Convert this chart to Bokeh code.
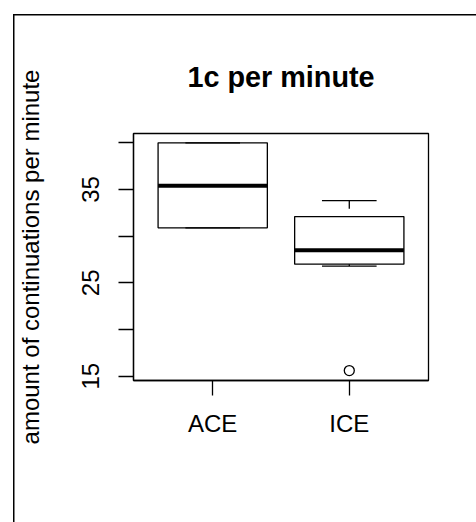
from bokeh.plotting import figure
from bokeh.models import Range1d, FixedTicker, ColumnDataSource
from bokeh.embed import file_html
from bokeh.resources import INLINE

# ---- data ----
categories = ["ACE", "ICE"]
lower_whisker = [30.9, 26.8]
q1 = [30.9, 27.0]
median = [35.4, 28.5]
q3 = [40.0, 32.1]
upper_whisker = [40.0, 33.8]
outlier_cat = ["ICE"]
outlier_val = [15.6]
y_ticks = [15, 20, 25, 30, 35, 40]
y_tick_labels = ["15", "", "25", "", "35", ""]

pos = [i + 1 for i in range(len(categories))]
box_half = 0.4
staple_half = 0.2

src = ColumnDataSource(dict(
    x=pos,
    left=[p - box_half for p in pos],
    right=[p + box_half for p in pos],
    sl=[p - staple_half for p in pos],
    sr=[p + staple_half for p in pos],
    lw=lower_whisker, q1=q1, med=median, q3=q3, uw=upper_whisker,
))
out_src = ColumnDataSource(dict(
    x=[pos[categories.index(c)] for c in outlier_cat], y=outlier_val))

FONT = "Liberation Sans"
INK = "#000000"

p = figure(width=476, height=522, output_backend="svg", toolbar_location=None,
           x_range=Range1d(0.42, 2.58), y_range=Range1d(14.54, 41.0),
           min_border_left=133, min_border_right=48,
           min_border_top=133, min_border_bottom=142,
           title="1c per minute")
p.border_fill_color = None
p.background_fill_color = "white"
p.styles = {
    "background-image": "linear-gradient(#000,#000), linear-gradient(#000,#000)",
    "background-size": "1.5px 100%, 100% 1.5px",
    "background-position": "13px 14px, 13px 14px",
    "background-repeat": "no-repeat",
}
p.grid.visible = False
p.outline_line_color = INK
p.outline_line_width = 1.3

p.title.text_font = FONT
p.title.text_font_size = "28.8px"
p.title.text_font_style = "bold"
p.title.text_color = INK
p.title.align = "center"
p.title.standoff = 81

# axes
for ax in (p.xaxis[0], p.yaxis[0]):
    ax.axis_line_color = INK
    ax.axis_line_width = 1.3
    ax.major_tick_line_color = INK
    ax.major_tick_line_width = 1.3
    ax.major_tick_in = 0
    ax.major_tick_out = 15
    ax.minor_tick_line_color = None
    ax.major_label_text_font = FONT
    ax.major_label_text_font_size = "24px"
    ax.major_label_text_color = INK

p.xaxis.ticker = FixedTicker(ticks=pos)
p.xaxis.major_label_overrides = {pp: c for pp, c in zip(pos, categories)}
p.xaxis.major_label_standoff = 14

p.yaxis.ticker = FixedTicker(ticks=y_ticks)
p.yaxis.major_label_overrides = {t: l for t, l in zip(y_ticks, y_tick_labels)}
p.yaxis.major_label_orientation = "vertical"
p.yaxis.major_label_standoff = 19
p.yaxis.axis_label = "amount of continuations per minute"
p.yaxis.axis_label_text_font = FONT
p.yaxis.axis_label_text_font_size = "24px"
p.yaxis.axis_label_text_font_style = "normal"
p.yaxis.axis_label_text_color = INK
p.yaxis.axis_label_standoff = 36

# whiskers (dashed)
p.segment(x0="x", y0="uw", x1="x", y1="q3", source=src,
          line_color=INK, line_width=1.3, line_dash="8 8")
p.segment(x0="x", y0="lw", x1="x", y1="q1", source=src,
          line_color=INK, line_width=1.3, line_dash="8 8")
# staples
p.segment(x0="sl", y0="uw", x1="sr", y1="uw", source=src,
          line_color=INK, line_width=1.3)
p.segment(x0="sl", y0="lw", x1="sr", y1="lw", source=src,
          line_color=INK, line_width=1.3)
# boxes
p.quad(left="left", right="right", bottom="q1", top="q3", source=src,
       fill_color=None, line_color=INK, line_width=1.3)
# medians
p.segment(x0="left", y0="med", x1="right", y1="med", source=src,
          line_color=INK, line_width=4)
# outliers
p.scatter(x="x", y="y", source=out_src, marker="circle", size=10,
          fill_color=None, line_color=INK, line_width=1.3)

open("out.html", "w").write(file_html(p, INLINE))
